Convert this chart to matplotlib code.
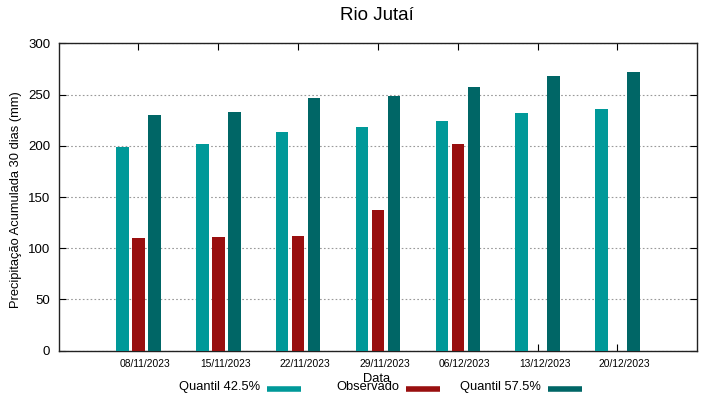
import numpy as np
import matplotlib
matplotlib.use("Agg")
import matplotlib.pyplot as plt
from matplotlib.lines import Line2D
from matplotlib.transforms import ScaledTranslation

plt.rcParams['font.family'] = ['Liberation Sans', 'DejaVu Sans']

datas = ["08/11/2023", "15/11/2023", "22/11/2023", "29/11/2023",
         "06/12/2023", "13/12/2023", "20/12/2023"]
q425 = [199, 202, 213, 218, 224, 232, 236]
observado = [110, 111, 112, 137, 202, np.nan, np.nan]
q575 = [230, 233, 247, 249, 257, 268, 272]

series = [("Quantil 42.5%", q425, "#009999"),
          ("Observado", observado, "#990f0f"),
          ("Quantil 57.5%", q575, "#006666")]

fig = plt.figure(figsize=(7.19, 3.99), dpi=100)
ax = fig.add_axes([0.0816, 0.121, 0.8882, 0.7705])

x = np.arange(len(datas))
w = 0.156
for i, (nome, vals, cor) in enumerate(series):
    ax.bar(x + (i - 1) * 0.2, vals, width=w, color=cor, zorder=3)

ax.set_xlim(-1, 7)
ax.set_ylim(0, 300)
ax.set_yticks(range(0, 301, 50))
ax.set_xticks(x)
ax.set_xticklabels(datas, fontsize=7.4)
ax.tick_params(axis='y', labelsize=9.5, direction='in', length=5, right=True, pad=6)
ax.tick_params(axis='x', direction='in', length=5, top=True, pad=6)
off = ScaledTranslation(7 / 100, 0, fig.dpi_scale_trans)
for lab in ax.get_xticklabels():
    lab.set_transform(lab.get_transform() + off)

ax.yaxis.grid(True, linestyle=(0, (1.5, 2)), color='#999999', linewidth=0.8, zorder=0)
for s in ax.spines.values():
    s.set_linewidth(1.0)
    s.set_color('#222222')

fig.text(377 / 719, 1 - 15 / 399, "Rio Jutaí", ha='center', va='center', fontsize=13.5)
fig.text(16 / 719, 1 - 200 / 399, "Precipitação Acumulada 30 dias (mm)",
         rotation=90, ha='center', va='center', fontsize=9.3)
fig.text(377 / 719, 1 - 379 / 399, "Data", ha='center', va='center', fontsize=9.3)

# legenda no estilo gnuplot: texto alinhado à direita e amostra depois
txt_x = [260, 399, 541]
for (nome, vals, cor), tx in zip(series, txt_x):
    fig.text(tx / 719, 1 - 387 / 399, nome, ha='right', va='center', fontsize=9.3)
    fig.add_artist(Line2D([(tx + 7) / 719, (tx + 41) / 719], [1 - 389 / 399] * 2,
                          color=cor, linewidth=4, solid_capstyle='butt',
                          transform=fig.transFigure))

fig.savefig("out.png", dpi=100)
